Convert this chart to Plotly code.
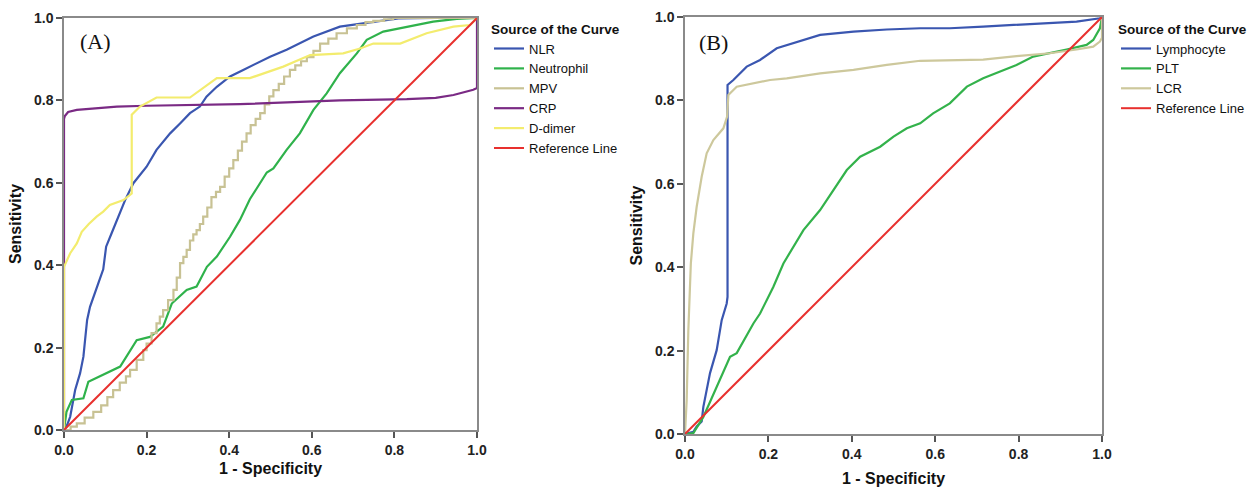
import plotly.graph_objects as go

# ---------------- Panel A data (1 - Specificity, Sensitivity) ----------------
nlr_x = [0.0, 0.006, 0.015, 0.027, 0.039, 0.047, 0.051, 0.056, 0.063, 0.071, 0.083, 0.095, 0.102, 0.115,
         0.132, 0.148, 0.168, 0.2, 0.224, 0.257, 0.281, 0.305, 0.329, 0.345, 0.37, 0.402, 0.434, 0.467,
         0.499, 0.539, 0.571, 0.604, 0.668, 0.749, 0.81, 0.9, 1.0]
nlr_y = [0.0, 0.008, 0.032, 0.097, 0.138, 0.178, 0.218, 0.267, 0.299, 0.324, 0.356, 0.39, 0.445, 0.477,
         0.518, 0.558, 0.599, 0.639, 0.68, 0.72, 0.744, 0.769, 0.785, 0.809, 0.833, 0.858, 0.874, 0.89,
         0.906, 0.923, 0.939, 0.955, 0.979, 0.991, 0.999, 1.0, 1.0]

neu_x = [0.0, 0.006, 0.019, 0.047, 0.059, 0.103, 0.136, 0.176, 0.208, 0.24, 0.261, 0.297, 0.321, 0.346,
         0.37, 0.402, 0.426, 0.45, 0.491, 0.507, 0.539, 0.571, 0.604, 0.636, 0.668, 0.709, 0.733, 0.773,
         0.83, 0.894, 0.951, 1.0]
neu_y = [0.0, 0.044, 0.073, 0.077, 0.117, 0.138, 0.154, 0.218, 0.226, 0.251, 0.307, 0.34, 0.348, 0.396,
         0.421, 0.469, 0.51, 0.56, 0.625, 0.635, 0.68, 0.72, 0.777, 0.817, 0.866, 0.914, 0.947, 0.967,
         0.979, 0.991, 0.998, 1.0]

mpv_x = [0.0, 0.016, 0.031, 0.05, 0.071, 0.09, 0.105, 0.119, 0.135, 0.15, 0.16, 0.176, 0.192, 0.2,
         0.212, 0.224, 0.232, 0.24, 0.252, 0.265, 0.273, 0.281, 0.289, 0.297, 0.305, 0.313, 0.321,
         0.329, 0.337, 0.347, 0.357, 0.368, 0.378, 0.389, 0.4, 0.41, 0.421, 0.431, 0.442, 0.452,
         0.464, 0.475, 0.486, 0.497, 0.507, 0.52, 0.533, 0.547, 0.56, 0.574, 0.588, 0.604, 0.62,
         0.64, 0.66, 0.685, 0.709, 0.73, 0.749, 0.775, 0.797, 1.0]
mpv_y = [0.0, 0.008, 0.016, 0.03, 0.044, 0.06, 0.08, 0.097, 0.115, 0.13, 0.146, 0.17, 0.194, 0.21,
         0.235, 0.259, 0.275, 0.291, 0.315, 0.34, 0.37, 0.405, 0.42, 0.437, 0.46, 0.475, 0.485,
         0.5, 0.518, 0.54, 0.565, 0.578, 0.59, 0.615, 0.635, 0.655, 0.678, 0.7, 0.72, 0.74,
         0.755, 0.769, 0.79, 0.81, 0.825, 0.84, 0.858, 0.874, 0.885, 0.895, 0.905, 0.92, 0.938,
         0.95, 0.963, 0.975, 0.983, 0.99, 0.993, 0.997, 1.0, 1.0]

crp_x = [0.0, 0.0, 0.002, 0.01, 0.031, 0.128, 0.2, 0.329, 0.426, 0.62, 0.668, 0.83, 0.9, 0.943, 0.97, 0.991, 1.0, 1.0]
crp_y = [0.0, 0.755, 0.762, 0.772, 0.777, 0.785, 0.787, 0.79, 0.791, 0.798, 0.8, 0.803, 0.806, 0.813, 0.82, 0.826, 0.83, 1.0]

dd_x = [0.0, 0.0, 0.015, 0.031, 0.043, 0.06, 0.079, 0.095, 0.111, 0.144, 0.164, 0.164, 0.184, 0.224,
        0.305, 0.37, 0.45, 0.507, 0.531, 0.596, 0.676, 0.717, 0.749, 0.814, 0.878, 0.943, 0.983, 1.0]
dd_y = [0.0, 0.396, 0.429, 0.453, 0.481, 0.5, 0.518, 0.53, 0.546, 0.558, 0.574, 0.765, 0.785, 0.807,
        0.807, 0.854, 0.854, 0.874, 0.882, 0.91, 0.914, 0.926, 0.938, 0.938, 0.963, 0.979, 0.983, 1.0]

# ---------------- Panel B data ----------------
lym_x = [0.0, 0.02, 0.028, 0.04, 0.044, 0.06, 0.076, 0.088, 0.1, 0.102, 0.102, 0.116, 0.148, 0.18, 0.22,
         0.284, 0.324, 0.404, 0.484, 0.564, 0.635, 0.715, 0.835, 0.939, 0.995, 1.0]
lym_y = [0.0, 0.005, 0.018, 0.03, 0.065, 0.146, 0.201, 0.273, 0.313, 0.329, 0.837, 0.849, 0.881, 0.897, 0.925,
         0.945, 0.957, 0.965, 0.97, 0.973, 0.973, 0.977, 0.983, 0.989, 0.997, 1.0]

plt_x = [0.0, 0.02, 0.044, 0.076, 0.108, 0.124, 0.164, 0.18, 0.212, 0.236, 0.26, 0.284, 0.324, 0.356, 0.388,
         0.42, 0.468, 0.5, 0.532, 0.564, 0.595, 0.635, 0.676, 0.715, 0.755, 0.795, 0.835, 0.875, 0.915,
         0.963, 0.979, 0.995, 1.0]
plt_y = [0.0, 0.002, 0.041, 0.113, 0.185, 0.194, 0.265, 0.289, 0.353, 0.409, 0.449, 0.489, 0.537, 0.585, 0.633,
         0.665, 0.689, 0.713, 0.733, 0.745, 0.769, 0.793, 0.833, 0.853, 0.869, 0.885, 0.905, 0.913, 0.922,
         0.933, 0.945, 0.973, 1.0]

lcr_x = [0.0, 0.004, 0.008, 0.014, 0.02, 0.028, 0.04, 0.052, 0.068, 0.092, 0.101, 0.104, 0.124, 0.164, 0.204,
         0.244, 0.324, 0.404, 0.484, 0.564, 0.715, 0.795, 0.875, 0.939, 0.979, 0.995, 1.0, 1.0]
lcr_y = [0.0, 0.08, 0.249, 0.409, 0.481, 0.545, 0.617, 0.673, 0.705, 0.733, 0.761, 0.813, 0.833, 0.841, 0.849,
         0.853, 0.865, 0.873, 0.885, 0.895, 0.898, 0.906, 0.913, 0.922, 0.929, 0.941, 0.95, 1.0]

ref_x = [0.0, 1.0]
ref_y = [0.0, 1.0]

ticks = [0.0, 0.2, 0.4, 0.6, 0.8, 1.0]
tick_labels = ["0.0", "0.2", "0.4", "0.6", "0.8", "1.0"]

FONT = "Arial, 'Liberation Sans', sans-serif"
W, H = 1255, 490

fig = go.Figure()

series_a = [
    ("NLR", nlr_x, nlr_y, "#3a56b0", "linear"),
    ("Neutrophil", neu_x, neu_y, "#2fb24b", "linear"),
    ("MPV", mpv_x, mpv_y, "#c8c294", "hv"),
    ("CRP", crp_x, crp_y, "#7a2a84", "linear"),
    ("D-dimer", dd_x, dd_y, "#f3ec6e", "linear"),
]
for name, xs, ys, col, shape in series_a:
    fig.add_trace(go.Scatter(x=xs, y=ys, mode="lines", name=name, line=dict(color=col, width=2.2, shape=shape),
                             xaxis="x", yaxis="y", legend="legend"))
fig.add_trace(go.Scatter(x=ref_x, y=ref_y, mode="lines", name="Reference Line",
                         line=dict(color="#e8302e", width=2), xaxis="x", yaxis="y", legend="legend"))

series_b = [
    ("Lymphocyte", lym_x, lym_y, "#3a56b0"),
    ("PLT", plt_x, plt_y, "#33b24b"),
    ("LCR", lcr_x, lcr_y, "#cdc89c"),
]
for name, xs, ys, col in series_b:
    fig.add_trace(go.Scatter(x=xs, y=ys, mode="lines", name=name, line=dict(color=col, width=2.2),
                             xaxis="x2", yaxis="y2", legend="legend2"))
fig.add_trace(go.Scatter(x=ref_x, y=ref_y, mode="lines", name="Reference Line",
                         line=dict(color="#e8302e", width=2), xaxis="x2", yaxis="y2", legend="legend2"))

def px_x(p):
    return p / W

def px_y(p):
    return (H - p) / H

axis_common = dict(range=[0, 1], tickvals=ticks, ticktext=tick_labels, showgrid=False, zeroline=False,
                   showline=True, mirror=True, linecolor="#8a8a8a", linewidth=1.5,
                   ticks="outside", ticklen=6, tickwidth=1.5, tickcolor="#555555", automargin=False,
                   tickfont=dict(family=FONT, size=14, color="#222222", weight="bold"), fixedrange=True)
title_font = dict(family=FONT, size=16, color="#111111", weight="bold")

leg_common = dict(font=dict(family=FONT, size=13, color="#111111"),
                  bgcolor="rgba(0,0,0,0)", borderwidth=0, xanchor="left", yanchor="top",
                  tracegroupgap=0, itemclick=False, itemdoubleclick=False)
leg_title_font = dict(family=FONT, size=13.5, color="#111111", weight="bold")

fig.update_layout(
    width=W, height=H, margin=dict(l=0, r=0, t=0, b=0, autoexpand=False),
    paper_bgcolor="white", plot_bgcolor="white", showlegend=True,
    xaxis=dict(domain=[px_x(64), px_x(477)], anchor="y",
               title=dict(text="1 - Specificity", font=title_font, standoff=6), **axis_common),
    yaxis=dict(domain=[px_y(430), px_y(18)], anchor="x",
               title=dict(text="Sensitivity", font=title_font, standoff=8), **axis_common),
    xaxis2=dict(domain=[px_x(685), px_x(1102)], anchor="y2",
                title=dict(text="1 - Specificity", font=title_font, standoff=12), **axis_common),
    yaxis2=dict(domain=[px_y(434), px_y(17)], anchor="x2",
                title=dict(text="Sensitivity", font=title_font, standoff=8), **axis_common),
    legend=dict(x=px_x(489), y=px_y(16),
                title=dict(text="Source of the Curve", font=leg_title_font), **leg_common),
    legend2=dict(x=px_x(1116), y=px_y(16),
                 title=dict(text="Source of the Curve", font=leg_title_font), **leg_common),
    annotations=[
        dict(text="(A)", x=px_x(78), y=px_y(41), xref="paper", yref="paper", xanchor="left", yanchor="middle",
             showarrow=False, font=dict(family="'Times New Roman', 'Liberation Serif', serif", size=22, color="#111111")),
        dict(text="(B)", x=px_x(697), y=px_y(42), xref="paper", yref="paper", xanchor="left", yanchor="middle",
             showarrow=False, font=dict(family="'Times New Roman', 'Liberation Serif', serif", size=22, color="#111111")),
    ],
)

fig.write_html("out.html", config={"displayModeBar": False},
               post_script="document.body.style.margin='0px';document.documentElement.style.overflow='hidden';")
